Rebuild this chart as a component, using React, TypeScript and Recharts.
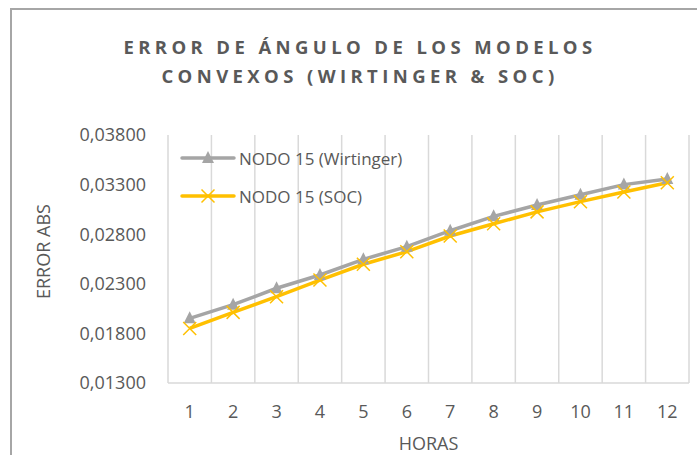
import { CartesianGrid, Line, LineChart, XAxis, YAxis } from "recharts";

const horas = ["1", "2", "3", "4", "5", "6", "7", "8", "9", "10", "11", "12"];
const wirtinger = [
  0.01952, 0.0209, 0.02255, 0.02389, 0.02547, 0.02674, 0.02835, 0.0298, 0.03094, 0.03198, 0.033, 0.03356,
];
const soc = [
  0.0185, 0.02012, 0.0217, 0.02338, 0.02497, 0.02624, 0.02782, 0.02905, 0.03025, 0.03128, 0.03225, 0.03318,
];
const yTicks = [0.013, 0.018, 0.023, 0.028, 0.033, 0.038];
const seriesNames = ["NODO 15 (Wirtinger)", "NODO 15 (SOC)"];

const GRAY = "#A5A5A5";
const GOLD = "#FFC000";
const TEXT = "#595959";
const FONT = "'Open Sans', sans-serif";

const data = horas.map((h, i) => ({ hora: h, w: wirtinger[i], s: soc[i] }));

const fmt = (v: number) => v.toFixed(5).replace(".", ",");

function Triangle({ cx, cy }: { cx?: number; cy?: number }) {
  if (cx == null || cy == null) return null;
  return <polygon points={`${cx},${cy - 7} ${cx - 6},${cy + 5} ${cx + 6},${cy + 5}`} fill={GRAY} />;
}

function Cross({ cx, cy }: { cx?: number; cy?: number }) {
  if (cx == null || cy == null) return null;
  const r = 6.5;
  return (
    <path
      d={`M${cx - r},${cy - r}L${cx + r},${cy + r}M${cx - r},${cy + r}L${cx + r},${cy - r}`}
      stroke={GOLD}
      strokeWidth={1.5}
      fill="none"
    />
  );
}

// legend sits inside the plot area, top-left, like the Excel original
function LegendBox() {
  const rows = [
    { name: seriesNames[0], color: GRAY, marker: "tri" },
    { name: seriesNames[1], color: GOLD, marker: "x" },
  ];
  return (
    <div style={{ position: "absolute", left: 180, top: 139, fontFamily: FONT, fontSize: 17, color: TEXT }}>
      {rows.map((r) => (
        <div key={r.name} style={{ display: "flex", alignItems: "center", height: 38 }}>
          <svg width={56} height={20} style={{ marginRight: 3 }}>
            <line x1={2} y1={10} x2={54} y2={10} stroke={r.color} strokeWidth={3.5} strokeLinecap="round" />
            {r.marker === "tri" ? <Triangle cx={28} cy={10} /> : <Cross cx={28} cy={10} />}
          </svg>
          <span>{r.name}</span>
        </div>
      ))}
    </div>
  );
}

export default function App() {
  return (
    <div style={{ position: "absolute", left: 0, top: 0, width: 697, height: 455, background: "#fff", overflow: "hidden" }}>
      <div
        style={{
          position: "absolute",
          left: 10,
          top: 8,
          width: 700,
          height: 470,
          border: "2px solid #a6a6a6",
          boxSizing: "border-box",
        }}
      />
      <div
        style={{
          position: "absolute",
          left: 0,
          top: 32,
          width: 720,
          textAlign: "center",
          fontFamily: FONT,
          fontWeight: 700,
          fontSize: 18.5,
          letterSpacing: 4.4,
          lineHeight: "29px",
          color: TEXT,
        }}
      >
        ERROR DE ÁNGULO DE LOS MODELOS
        <br />
        CONVEXOS (WIRTINGER &amp; SOC)
      </div>
      <div style={{ position: "absolute", left: 0, top: 0 }}>
        <LineChart width={697} height={455} data={data} margin={{ top: 135, right: 8, bottom: 0, left: 0 }}>
          <CartesianGrid
            horizontal={false}
            stroke="#D9D9D9"
            strokeWidth={1.5}
            verticalCoordinatesGenerator={({ offset }: any) =>
              horas.concat("").map((_, i) => offset.left + (i * offset.width) / horas.length)
            }
          />
          <XAxis
            dataKey="hora"
            scale="band"
            height={72}
            tickLine={false}
            tickMargin={16}
            axisLine={{ stroke: "#D9D9D9", strokeWidth: 1.5 }}
            tick={{ fill: TEXT, fontSize: 18, fontFamily: FONT }}
            label={{ value: "HORAS", position: "insideBottom", offset: 5, fill: TEXT, fontSize: 18, fontFamily: FONT }}
          />
          <YAxis
            width={168}
            domain={[0.013, 0.038]}
            ticks={yTicks}
            tickFormatter={fmt}
            tickLine={false}
            axisLine={false}
            tickMargin={16}
            tick={{ fill: TEXT, fontSize: 18, fontFamily: FONT }}
            label={{
              value: "ERROR ABS",
              angle: -90,
              position: "insideLeft",
              offset: 44,
              dy: 40,
              fill: TEXT,
              fontSize: 18,
              fontFamily: FONT,
            }}
          />
          <Line
            type="linear"
            dataKey="w"
            name={seriesNames[0]}
            stroke={GRAY}
            strokeWidth={3.5}
            dot={<Triangle />}
            activeDot={false}
            isAnimationActive={false}
          />
          <Line
            type="linear"
            dataKey="s"
            name={seriesNames[1]}
            stroke={GOLD}
            strokeWidth={3.5}
            dot={<Cross />}
            activeDot={false}
            isAnimationActive={false}
          />
        </LineChart>
      </div>
      <LegendBox />
    </div>
  );
}
